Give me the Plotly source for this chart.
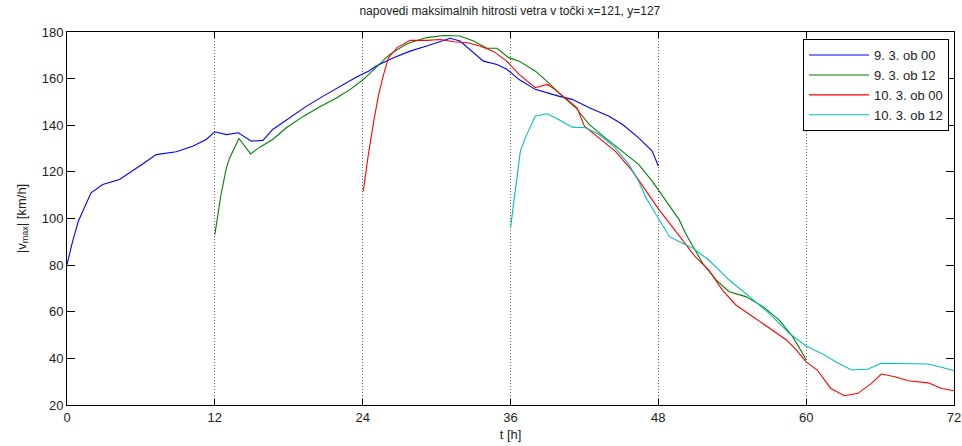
import plotly.graph_objects as go

# ---- data ----
t_900 = [0, 0.46, 0.92, 1.41, 1.95, 2.9, 4.26, 5.9, 7.24, 8.87, 10.2, 11.3, 12, 12.94, 13.9, 14.97,
         15.9, 16.7, 18.1, 19.45, 20.8, 22.4, 23.5, 24.5, 25.1, 26.5, 27.85, 29.2, 30.3, 31.1, 31.9,
         32.7, 33.8, 34.9, 35.7, 36.7, 38, 39.9, 41, 42.4, 44, 45.1, 46.4, 47.5, 48]
v_900 = [80.2, 90.3, 98.8, 104.6, 111, 114.6, 116.7, 122.5, 127.4, 128.6, 131, 133.9, 137.2, 136, 136.8, 133.2,
         133.5, 138.2, 143.2, 148.2, 152.5, 157.5, 160.7, 163.3, 165.4, 169, 171.8, 174, 176.1, 177.3, 176.1,
         172.5, 167.5, 166.1, 164, 159.6, 155.4, 152.5, 151.1, 147.5, 143.9, 140.3, 134.6, 128.9, 122.5]

t_912 = [12, 12.5, 12.94, 13.2, 13.96, 14.9, 15.65, 16.7, 17.8, 19.2, 20.5, 21.9, 23, 24.05, 24.9, 26.2,
         27.6, 29.2, 30.6, 31.9, 33, 34.1, 34.9, 35.85, 36.7, 38, 39.1, 40.2, 41.3, 42.4, 43.7, 45.1,
         46.4, 47.5, 48.3, 48.9, 49.7, 50.2, 50.8, 51.6, 52.7, 53.75, 55.1, 56.5, 57.8, 58.9, 59.7, 60]
v_912 = [93.1, 110.3, 121.7, 126, 134.3, 127.7, 130.6, 133.9, 138.9, 143.9, 147.8, 151.8, 155.4, 159.6, 163.9, 170.4,
         175, 177.6, 178.5, 178.3, 176.1, 173, 173, 169, 167.5, 163.3, 158.2, 152.5, 147.5, 140.3, 134.6, 128.9,
         123.2, 116, 110, 105.8, 99.4, 93.7, 87.9, 80.8, 73.6, 68.6, 66.5, 62.2, 56.5, 49.3, 42.2, 39.3]

t_1000 = [24.05, 24.46, 24.9, 25.3, 25.7, 26.1, 26.8, 27.85, 29.2, 30.3, 31.4, 32.5, 33.5, 34.6, 35.7, 36.7,
          38, 39, 39.6, 40.7, 41.4, 42, 43.2, 44.5, 45.9, 47, 48.05, 48.9, 49.96, 51, 52.1, 53.2,
          54.3, 55.7, 57, 58.4, 59.2, 60, 60.9, 62, 63.1, 64.2, 65.3, 66.1, 67.2, 68.3, 69.9, 71, 72]
v_1000 = [111.7, 127.4, 141.8, 153.2, 161.8, 169, 173.3, 176.4, 176.4, 176.8, 175.8, 175.4, 174, 171.8, 167.5, 161.8,
          156.1, 157.5, 155.4, 150.4, 147.5, 139.6, 134.6, 128.9, 120.3, 111.7, 103.8, 98, 90.8, 83.6, 77.9, 69.3,
          62.9, 57.9, 52.9, 47.9, 43.6, 38.5, 35, 27.1, 24, 25, 29.3, 33.3, 32.1, 30.4, 29.5, 27.1, 26.1]

t_1012 = [36, 36.4, 36.8, 37.2, 38, 39, 39.9, 41, 42.1, 43.2, 44.5, 45.6, 46.4, 47, 47.8, 48.9,
          49.96, 50.8, 52.1, 53.75, 55.4, 57, 58.6, 60, 61.5, 62.6, 63.7, 65, 66.1, 67.7, 69.9, 71, 72]
v_1012 = [96, 113.1, 128.9, 134.6, 143.9, 144.9, 142.5, 139.2, 138.9, 136, 130.3, 123.2, 116, 108.9, 101.7, 92.2,
          89.4, 87.3, 82.2, 73.6, 66.5, 59.3, 50.8, 45.3, 41.4, 37.9, 35, 35.3, 37.9, 37.9, 37.6, 36.2, 34.7]

series_names = ["9. 3. ob 00", "9. 3. ob 12", "10. 3. ob 00", "10. 3. ob 12"]
series_colors = ["#0000ff", "#008000", "#ff0000", "#00bfbf"]
x_ticks = [0, 12, 24, 36, 48, 60, 72]
y_ticks = [20, 40, 60, 80, 100, 120, 140, 160, 180]

title_text = "napovedi maksimalnih hitrosti vetra v točki x=121, y=127"
x_title = "t [h]"
y_title = "|v<sub>max</sub>| [km/h]"

fig = go.Figure()
for t, v, name, col in zip([t_900, t_912, t_1000, t_1012], [v_900, v_912, v_1000, v_1012],
                           series_names, series_colors):
    fig.add_trace(go.Scatter(x=t, y=v, mode="lines", name=name,
                             line=dict(color=col, width=1.1)))

font_family = "Liberation Sans, Arial, sans-serif"
fig.update_layout(
    width=962, height=446,
    margin=dict(l=67, r=8, t=32, b=41, autoexpand=False),
    paper_bgcolor="white", plot_bgcolor="white",
    font=dict(family=font_family, size=13, color="#222"),
    title=dict(text=title_text, x=0.53, xanchor="center", y=0.985, yanchor="top",
               font=dict(size=12, color="#222")),
    showlegend=True,
    legend=dict(x=0.9944, xanchor="right", y=0.981, yanchor="top",
                bgcolor="white", bordercolor="black", borderwidth=1,
                font=dict(size=13, color="#222"), tracegroupgap=0,
                itemwidth=60),
)
fig.update_xaxes(range=[0, 72], tickvals=x_ticks, ticktext=[str(v) for v in x_ticks],
                 showline=True, linecolor="black", linewidth=1, mirror="ticks",
                 ticks="inside", ticklen=6, tickcolor="black",
                 showgrid=True, gridcolor="#666", griddash="1px,2px", gridwidth=1,
                 zeroline=False, automargin=False,
                 title=dict(text=x_title, standoff=6, font=dict(size=13)))
fig.update_yaxes(range=[20, 180], tickvals=y_ticks, ticktext=[str(v) for v in y_ticks],
                 showline=True, linecolor="black", linewidth=1, mirror="ticks",
                 ticks="inside", ticklen=8, tickcolor="black",
                 showgrid=False, zeroline=False, automargin=False,
                 title=dict(text=y_title, standoff=12, font=dict(size=13)))

fig.write_html("out.html",
               config={"displayModeBar": False},
               post_script="document.body.style.margin='0';document.body.style.padding='0';")
